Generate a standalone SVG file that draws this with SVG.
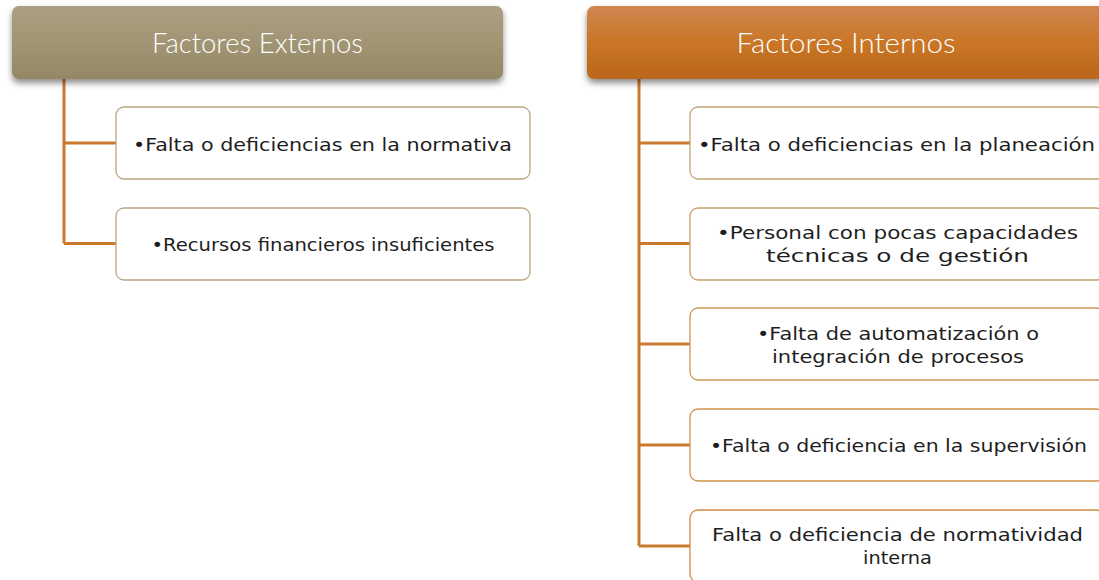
<svg xmlns="http://www.w3.org/2000/svg" width="1099" height="580" viewBox="0 0 1099 580">
<defs>
<linearGradient id="gExt" x1="0" y1="0" x2="0" y2="1">
<stop offset="0" stop-color="#aa9f80"/>
<stop offset="0.5" stop-color="#a19574"/>
<stop offset="1" stop-color="#948765"/>
</linearGradient>
<linearGradient id="gInt" x1="0" y1="0" x2="0" y2="1">
<stop offset="0" stop-color="#cf8752"/>
<stop offset="0.5" stop-color="#c97626"/>
<stop offset="1" stop-color="#b9661a"/>
</linearGradient>
<filter id="sh" x="-5%" y="-20%" width="110%" height="150%">
<feDropShadow dx="0" dy="4" stdDeviation="3" flood-color="#000" flood-opacity="0.45"/>
</filter>
</defs>
<style>
.hdr{font-family:Lato,"Open Sans","DejaVu Sans",sans-serif;font-weight:300;font-size:27px;fill:#ffffff;text-anchor:middle}
.box{fill:#ffffff;stroke-width:1.3}
.t{font-family:"DejaVu Sans","Liberation Sans",sans-serif;font-size:18.5px;fill:#1e1e1e;text-anchor:middle}
.con{fill:none;stroke:#c97a2f;stroke-width:3}
</style>
<rect width="1099" height="580" fill="#ffffff"/>
<g id="connectors">
<path class="con" d="M64 79 V243.5 M64 143 H116 M64 243.5 H116"/>
<path class="con" d="M639 79 V546 M639 143 H690 M639 243.5 H690 M639 344 H690 M639 445 H690 M639 546 H690"/>
</g>
<g id="hdr-externos">
<rect x="12" y="6" width="491" height="73" rx="7" fill="url(#gExt)" filter="url(#sh)"/>
<text class="hdr" x="257.5" y="52.5" textLength="211" lengthAdjust="spacingAndGlyphs">Factores Externos</text>
</g>
<g id="hdr-internos">
<rect x="587" y="6" width="518" height="73" rx="7" fill="url(#gInt)" filter="url(#sh)"/>
<text class="hdr" x="846" y="52.5" textLength="219" lengthAdjust="spacingAndGlyphs">Factores Internos</text>
</g>
<g id="ext1">
<rect class="box" x="116" y="107" width="414" height="72" rx="8" stroke="#bba781"/>
<text class="t" x="322.5" y="150.5" textLength="379" lengthAdjust="spacingAndGlyphs">•Falta o deficiencias en la normativa</text>
</g>
<g id="ext2">
<rect class="box" x="116" y="208" width="414" height="72" rx="8" stroke="#bba781"/>
<text class="t" x="323" y="250.5" textLength="343" lengthAdjust="spacingAndGlyphs">•Recursos financieros insuficientes</text>
</g>
<g id="int1">
<rect class="box" x="690" y="107" width="414" height="72" rx="8" stroke="#c3a674"/>
<text class="t" x="896.5" y="150.5" textLength="397" lengthAdjust="spacingAndGlyphs">•Falta o deficiencias en la planeación</text>
</g>
<g id="int2">
<rect class="box" x="690" y="208" width="414" height="72" rx="8" stroke="#c8a06c"/>
<text class="t" x="897.5" y="239" textLength="361" lengthAdjust="spacingAndGlyphs">•Personal con pocas capacidades</text>
<text class="t" x="897.5" y="262" textLength="263" lengthAdjust="spacingAndGlyphs">técnicas o de gestión</text>
</g>
<g id="int3">
<rect class="box" x="690" y="308" width="414" height="72" rx="8" stroke="#d09656"/>
<text class="t" x="898" y="340" textLength="282" lengthAdjust="spacingAndGlyphs">•Falta de automatización o</text>
<text class="t" x="898" y="362.5" textLength="252" lengthAdjust="spacingAndGlyphs">integración de procesos</text>
</g>
<g id="int4">
<rect class="box" x="690" y="409" width="414" height="72" rx="8" stroke="#d3924c"/>
<text class="t" x="898.5" y="452" textLength="377" lengthAdjust="spacingAndGlyphs">•Falta o deficiencia en la supervisión</text>
</g>
<g id="int5">
<rect class="box" x="690" y="510" width="414" height="72" rx="8" stroke="#d48b42"/>
<text class="t" x="897.5" y="540.5" textLength="371" lengthAdjust="spacingAndGlyphs">Falta o deficiencia de normatividad</text>
<text class="t" x="897.5" y="564" textLength="69" lengthAdjust="spacingAndGlyphs">interna</text>
</g>
</svg>
